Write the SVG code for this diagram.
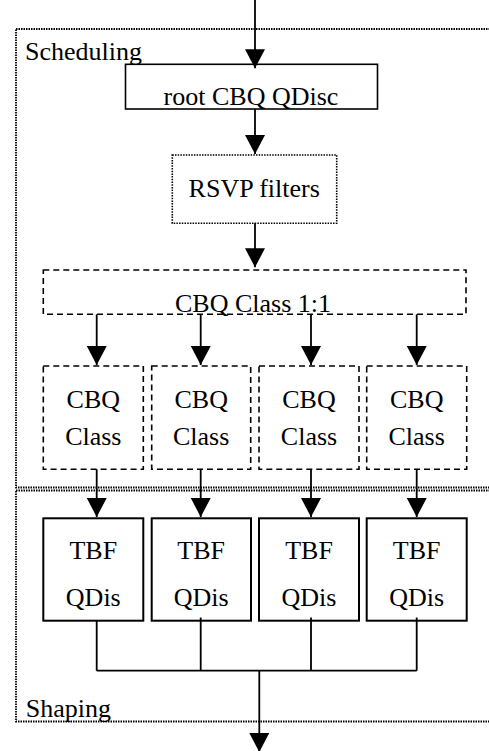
<svg xmlns="http://www.w3.org/2000/svg" width="489" height="751" viewBox="0 0 489 751">
<style>
text{font-family:"Liberation Serif","Times New Roman",serif;font-size:26px;fill:#000}
.mid{text-anchor:middle}
.frame{fill:none;stroke:#000;stroke-width:1.8;stroke-dasharray:1.5 1}
.solid{fill:#fff;stroke:#000;stroke-width:1.6}
.thick{fill:#fff;stroke:#000;stroke-width:2}
.dotted{fill:#fff;stroke:#000;stroke-width:1.6;stroke-dasharray:1.5 1.2}
.dashed{fill:#fff;stroke:#000;stroke-width:1.6;stroke-dasharray:6 4}
.conn{fill:none;stroke:#000;stroke-width:1.8}
.arr{marker-end:url(#ah)}
</style>
<defs>
<marker id="ah" viewBox="0 0 19 20" refX="19" refY="10" markerWidth="19" markerHeight="20" markerUnits="userSpaceOnUse" orient="auto">
<path d="M0,0 L19,10 L0,20 Z" fill="#000"/>
</marker>
</defs>
<rect fill="#fff" x="0" y="0" width="489" height="751"/>
<g id="scheduling">
<rect class="frame" x="16" y="29" width="480" height="458.5"/>
<text x="25" y="59.5">Scheduling</text>
</g>
<g id="shaping">
<rect class="frame" x="16" y="490.5" width="480" height="231"/>
<text x="25.7" y="716.7">Shaping</text>
</g>
<g id="root">
<rect class="solid" x="125.5" y="64.3" width="252" height="44.7"/>
<text class="mid" x="251" y="105">root CBQ QDisc</text>
</g>
<g id="rsvp">
<rect class="dotted" x="172.3" y="155" width="164.4" height="68.3"/>
<text class="mid" x="254.2" y="196.7">RSVP filters</text>
</g>
<g id="class11">
<rect class="dashed" x="43.3" y="270" width="422.7" height="44.3"/>
<text class="mid" x="253" y="311.5">CBQ Class 1:1</text>
</g>
<g id="class1">
<rect class="dashed" x="43.3" y="366" width="100" height="103.3"/>
<text class="mid" x="93.3" y="408.3">CBQ</text>
<text class="mid" x="93.3" y="445">Class</text>
</g>
<g id="class2">
<rect class="dashed" x="151.7" y="366" width="99" height="103.3"/>
<text class="mid" x="201.2" y="408.3">CBQ</text>
<text class="mid" x="201.2" y="445">Class</text>
</g>
<g id="class3">
<rect class="dashed" x="259" y="366" width="100" height="103.3"/>
<text class="mid" x="309" y="408.3">CBQ</text>
<text class="mid" x="309" y="445">Class</text>
</g>
<g id="class4">
<rect class="dashed" x="366.7" y="366" width="100" height="103.3"/>
<text class="mid" x="416.7" y="408.3">CBQ</text>
<text class="mid" x="416.7" y="445">Class</text>
</g>
<g id="tbf1">
<rect class="thick" x="43.3" y="518.3" width="100" height="102.4"/>
<text class="mid" x="93.3" y="559.3">TBF</text>
<text class="mid" x="93.3" y="605.5">QDis</text>
</g>
<g id="tbf2">
<rect class="thick" x="151.7" y="518.3" width="99.3" height="102.4"/>
<text class="mid" x="201.2" y="559.3">TBF</text>
<text class="mid" x="201.2" y="605.5">QDis</text>
</g>
<g id="tbf3">
<rect class="thick" x="259" y="518.3" width="100" height="102.4"/>
<text class="mid" x="309" y="559.3">TBF</text>
<text class="mid" x="309" y="605.5">QDis</text>
</g>
<g id="tbf4">
<rect class="thick" x="366.7" y="518.3" width="100" height="102.4"/>
<text class="mid" x="416.7" y="559.3">TBF</text>
<text class="mid" x="416.7" y="605.5">QDis</text>
</g>
<g id="connectors">
<line class="conn arr" x1="255" y1="0" x2="255" y2="68.3"/>
<line class="conn arr" x1="255" y1="109" x2="255" y2="154"/>
<line class="conn arr" x1="255" y1="223.3" x2="255" y2="267.3"/>
<line class="conn arr" x1="96.7" y1="314.3" x2="96.7" y2="365"/>
<line class="conn arr" x1="200.7" y1="314.3" x2="200.7" y2="365"/>
<line class="conn arr" x1="311" y1="314.3" x2="311" y2="365"/>
<line class="conn arr" x1="416.7" y1="314.3" x2="416.7" y2="365"/>
<line class="conn arr" x1="96.7" y1="469.3" x2="96.7" y2="517"/>
<line class="conn arr" x1="200.7" y1="469.3" x2="200.7" y2="517"/>
<line class="conn arr" x1="311" y1="469.3" x2="311" y2="517"/>
<line class="conn arr" x1="416.7" y1="469.3" x2="416.7" y2="517"/>
<path class="conn" d="M96.7,620.7 V670.7 M200.7,617.5 V670.7 M311,617.5 V670.7 M416.7,617.5 V670.7 M96.7,670.7 H416.7"/>
<line class="conn arr" x1="259.3" y1="670.7" x2="259.3" y2="752"/>
</g>
</svg>
